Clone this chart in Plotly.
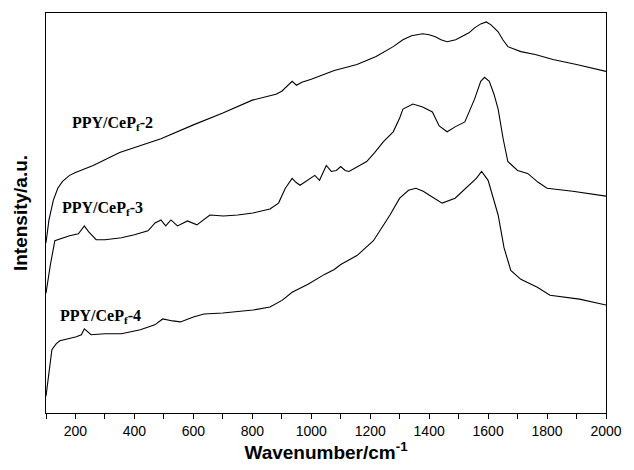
import plotly.graph_objects as go

# Wavenumber (cm^-1) and intensity (arbitrary units)
x2 = [100, 110, 125, 140, 156, 180, 200, 260, 350, 490, 600, 700, 800, 880, 900, 920, 935, 950, 968, 1000, 1040, 1078,
      1155, 1220, 1278, 1311, 1340, 1378, 1400, 1421, 1440, 1461, 1490, 1511, 1535, 1554, 1575, 1594, 1610,
      1634, 1650, 1667, 1690, 1711, 1760, 1820, 1900, 2000]
y2 = [172, 195, 215, 227, 234, 240, 243, 250, 263, 277, 291, 303, 316, 322, 325, 331, 335, 331, 334, 337, 342, 346,
      352, 360, 370, 377, 381, 383, 382, 380, 377, 375, 377, 380, 384, 389, 393, 395, 392,
      385, 377, 370, 367, 365, 362, 357, 352, 345]

x3 = [100, 115, 130, 150, 180, 210, 230, 245, 270, 300, 356, 400, 446, 470, 490, 506, 524, 546, 580, 612, 656, 702,
      750, 802, 860, 889, 912, 935, 948, 962, 989, 1012, 1028, 1040, 1051, 1068, 1085, 1100, 1115, 1128, 1160, 1188,
      1215, 1245, 1278, 1300, 1311, 1345, 1378, 1411, 1434, 1461, 1488, 1521, 1554, 1575, 1588, 1604,
      1620, 1634, 1651, 1667, 1700, 1734, 1770, 1800, 1887, 2000]
y3 = [121, 150, 174, 176, 179, 181, 189, 183, 175, 175, 177, 180, 184, 192, 195, 189, 195, 189, 194, 190, 200, 199,
      200, 202, 206, 212, 227, 237, 233, 230, 235, 240, 235, 242, 250, 244, 245, 249, 245, 244, 249, 254,
      263, 274, 284, 298, 307, 312, 309, 304, 290, 284, 289, 294, 317, 335, 339, 335,
      322, 307, 277, 254, 245, 242, 233, 227, 224, 219]

x4 = [100, 110, 120, 135, 147, 175, 203, 220, 230, 253, 300, 356, 420, 469, 496, 530, 556, 600, 636, 700, 802, 860,
      902, 935, 989, 1045, 1078, 1100, 1155, 1211, 1267, 1300, 1330, 1355, 1380, 1401, 1444, 1488, 1534, 1560,
      1578, 1600, 1634, 1654, 1677, 1711, 1767, 1810, 1910, 2000]
y4 = [17, 40, 64, 70, 73, 75, 77, 79, 85, 79, 80, 80, 84, 89, 95, 93, 92, 97, 100, 101, 104, 107,
      114, 122, 130, 140, 145, 150, 159, 174, 200, 217, 225, 227, 224, 220, 212, 217, 230, 237,
      244, 235, 200, 167, 144, 135, 127, 119, 115, 109]

labels = ["PPY/CeP<sub>f</sub>-2", "PPY/CeP<sub>f</sub>-3", "PPY/CeP<sub>f</sub>-4"]
label_x = [326, 293, 286]
label_y = [292, 207, 97]

x_ticks = [200, 400, 600, 800, 1000, 1200, 1400, 1600, 1800, 2000]

fig = go.Figure()
for xs, ys in [(x2, y2), (x3, y3), (x4, y4)]:
    fig.add_trace(go.Scatter(x=xs, y=ys, mode="lines",
                             line=dict(color="black", width=1.1), showlegend=False))

for t, lx, ly in zip(labels, label_x, label_y):
    fig.add_annotation(x=lx, y=ly, text="<b>" + t + "</b>", showarrow=False,
                       xanchor="center", yanchor="middle",
                       font=dict(family="Liberation Serif", size=16, color="black"))

fig.update_layout(
    width=634, height=470,
    margin=dict(l=46, r=17, t=13, b=53),
    plot_bgcolor="white", paper_bgcolor="white",
    font=dict(family="Liberation Sans", color="black"),
)
fig.update_xaxes(
    range=[100, 2000], tickvals=x_ticks, ticktext=[str(v) for v in x_ticks],
    ticks="outside", ticklen=5, tickwidth=1, tickcolor="black",
    minor=dict(dtick=100, tick0=100, ticks="outside", ticklen=5, tickwidth=1, tickcolor="black"),
    showline=True, linecolor="black", linewidth=1, mirror=True,
    showgrid=False, zeroline=False,
    tickfont=dict(family="Liberation Sans", size=14, color="black"),
    title=dict(text="<b>Wavenumber/cm<sup>-1</sup></b>", standoff=6,
               font=dict(family="Liberation Sans", size=19, color="black")),
)
fig.update_yaxes(
    range=[0, 404], showticklabels=False, ticks="",
    showline=True, linecolor="black", linewidth=1, mirror=True,
    showgrid=False, zeroline=False,
    title=dict(text="<b>Intensity/a.u.</b>", standoff=12,
               font=dict(family="Liberation Sans", size=19, color="black")),
)

fig.write_html("out.html")
